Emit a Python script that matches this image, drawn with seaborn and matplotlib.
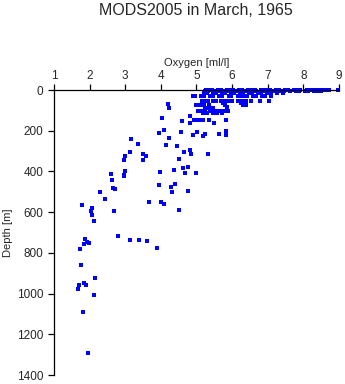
import matplotlib
matplotlib.use("Agg")
import matplotlib.pyplot as plt
import seaborn as sns
import pandas as pd

# Near-surface casts (depth in m, oxygen in ml/l)
surface_depth = [0] * 33 + [6] * 27 + [14] * 18 + [27] * 19
surface_oxygen = (
    # 0 m
    [5.28, 5.35, 5.44, 5.61, 5.70, 5.85, 5.93, 6.02, 6.18, 6.27, 6.45, 6.52, 6.63, 6.80,
     6.88, 6.97, 7.05, 7.22, 7.31, 7.48, 7.57, 7.74, 7.83, 7.91, 8.10, 8.19, 8.28, 8.36,
     8.45, 8.53, 8.62, 8.71, 8.97]
    # 6 m
    + [5.25, 5.33, 5.48, 5.57, 5.66, 5.81, 5.90, 6.07, 6.15, 6.33, 6.41, 6.58, 6.67,
       6.84, 6.93, 7.10, 7.19, 7.36, 7.45, 7.62, 7.79, 7.88, 8.05, 8.14, 8.31, 8.40, 8.49]
    # 14 m
    + [5.22, 5.30, 5.46, 5.55, 5.72, 5.80, 5.96, 6.05, 6.22, 6.30, 6.48, 6.56, 6.73,
       6.82, 6.99, 7.08, 7.25, 7.42]
    # 27 m
    + [4.91, 4.97, 5.12, 5.21, 5.38, 5.47, 5.63, 5.72, 5.90, 5.98, 6.16, 6.24, 6.33,
       6.42, 6.58, 6.67, 6.84, 6.93, 7.08]
)

# Upper thermocline (roughly 50-150 m)
upper_depth = (
    [52] * 15 + [63, 64, 74, 74, 74, 74, 74, 74, 74, 82, 88, 88, 88]
    + [102] * 9 + [113] * 5 + [129, 145, 145, 145, 145, 145, 145]
)
upper_oxygen = (
    [5.15, 5.24, 5.33, 5.45, 5.56, 5.68, 5.80, 5.91, 6.00, 6.17, 6.27, 6.38, 6.52,
     6.78, 7.04]
    + [5.75, 6.25, 5.00, 5.10, 5.22, 5.35, 5.80, 6.30, 6.40, 5.85,
       5.24, 5.36, 5.47]
    + [5.04, 5.14, 5.25, 5.37, 5.46, 5.58, 5.68, 5.79, 5.88]
    + [5.18, 5.30, 5.45, 5.58, 5.71]
    + [4.82, 4.93, 5.01, 5.09, 5.19, 5.34, 5.84]
)

# Scattered profile below the surface layer
deep_depth = [
    69, 90, 136, 213, 198, 239, 267, 236, 272, 274, 303, 314, 323, 326, 345, 345, 339,
    398, 403, 411, 418, 424, 391, 444, 468, 481, 488, 475, 463, 502, 500, 537, 552, 552,
    561, 563, 581, 594, 596, 591, 615, 645, 719, 734, 737, 737, 743, 778, 758, 748, 750,
    782, 858, 925, 948, 956, 958, 979, 1008, 1092, 1290,
    152, 164, 162, 208, 222, 208, 218, 227, 215, 203, 223, 296, 316, 306, 316,
    383, 377, 409, 409, 498,
]
deep_oxygen = [
    4.21, 4.24, 4.04, 3.96, 4.08, 3.17, 3.36, 4.24, 4.14, 4.46, 3.14, 3.51, 3.59, 2.99,
    2.96, 3.51, 4.50, 3.00, 3.98, 2.60, 2.97, 2.97, 4.38, 2.62, 3.96, 2.65, 2.70, 4.29,
    4.40, 4.32, 2.30, 2.44, 3.66, 4.01, 4.09, 1.79, 2.08, 2.03, 2.68, 4.50, 2.08, 2.13,
    2.80, 1.86, 3.14, 3.39, 3.62, 3.89, 1.84, 1.92, 1.98, 1.74, 1.77, 2.16, 1.85, 1.91,
    1.71, 1.68, 2.13, 1.82, 1.96,
    4.60, 4.83, 5.50, 4.57, 4.91, 5.01, 5.25, 5.17, 5.63, 5.84, 5.83, 4.82, 4.85, 4.64,
    5.31, 4.63, 4.77, 4.67, 5.00, 4.77,
]

x_ticks = [1, 2, 3, 4, 5, 6, 7, 8, 9]
y_ticks = [0, 200, 400, 600, 800, 1000, 1200, 1400]

df = pd.DataFrame({
    "oxygen": surface_oxygen + upper_oxygen + deep_oxygen,
    "depth": surface_depth + upper_depth + deep_depth,
})

sns.set_style("ticks")
plt.rcParams["font.family"] = ["Liberation Sans", "DejaVu Sans"]

fig = plt.figure(figsize=(3.45, 3.84), dpi=100)
ax = fig.add_axes([0.1565, 0.0234, 0.826, 0.742])

sns.scatterplot(data=df, x="oxygen", y="depth", ax=ax, marker="s", s=5.5,
                color="#0000ff", linewidth=0, clip_on=False)

ax.set_xlim(1, 9)
ax.set_ylim(1400, 0)
ax.set_xticks(x_ticks)
ax.set_yticks(y_ticks)
ax.xaxis.tick_top()
ax.xaxis.set_label_position("top")
ax.set_xlabel("Oxygen [ml/l]", fontsize=8, labelpad=3)
ax.set_ylabel("Depth [m]", fontsize=8, labelpad=3)
ax.tick_params(axis="both", labelsize=8.5, length=4, width=0.9, color="black",
               direction="out", pad=2)
ax.tick_params(axis="y", pad=3.5)

for side in ("right", "bottom"):
    ax.spines[side].set_visible(False)
for side in ("top", "left"):
    ax.spines[side].set_color("black")
    ax.spines[side].set_linewidth(0.9)

fig.text(0.568, 0.972, "MODS2005 in March, 1965", ha="center", va="center",
         fontsize=11.5)

fig.savefig("out.png", dpi=100)
